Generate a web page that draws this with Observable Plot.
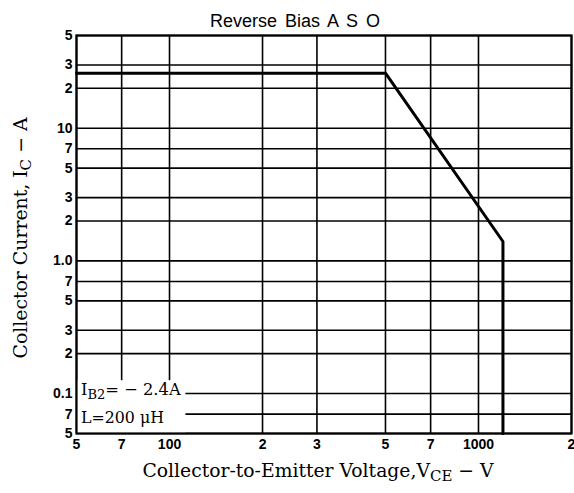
<!DOCTYPE html>
<html>
<head>
<meta charset="utf-8">
<script src="https://cdn.jsdelivr.net/npm/d3@7"></script>
<script src="https://cdn.jsdelivr.net/npm/@observablehq/plot@0.6"></script>
<style>
  body { margin: 0; background: #fff; }
  svg { display: block; }
</style>
</head>
<body>
<div id="chart"></div>
<script>
// ---- Data ----
const chartTitle = "Reverse Bias A S O";
const xTicks = [50, 70, 100, 200, 300, 500, 700, 1000, 2000];
const xTickLabels = ["5", "7", "100", "2", "3", "5", "7", "1000", "2"];
const yTicks = [0.05, 0.07, 0.1, 0.2, 0.3, 0.5, 0.7, 1, 2, 3, 5, 7, 10, 20, 30, 50];
const yTickLabels = ["5", "7", "0.1", "2", "3", "5", "7", "1.0", "2", "3", "5", "7", "10", "2", "3", "5"];
const vce = [50, 500, 1200, 1200];        // Collector-to-Emitter Voltage (V)
const ic = [26, 26, 1.4, 0.05];           // Collector Current (A)
// white box behind annotation (data space)
const annoBoxX = [50, 113];
const annoBoxY = [0.05, 0.125];

const curve = vce.map((v, i) => ({v, i: ic[i]}));
const xTickData = xTicks.map((t, i) => ({t, label: xTickLabels[i]}));
const yTickData = yTicks.map((t, i) => ({t, label: yTickLabels[i]}));

const W = 574, H = 493;
const mL = 76, mR = 3, mT = 35, mB = 60;

const plot = Plot.plot({
  width: W,
  height: H,
  marginLeft: mL,
  marginRight: mR,
  marginTop: mT,
  marginBottom: mB,
  style: {fontFamily: "'Liberation Sans', Arial, sans-serif", background: "#fff", color: "#000"},
  x: {type: "log", domain: [50, 2000], axis: null},
  y: {type: "log", domain: [0.05, 50], axis: null},
  marks: [
    Plot.ruleX(xTicks, {stroke: "#000", strokeWidth: 1.6}),
    Plot.ruleY(yTicks, {stroke: "#000", strokeWidth: 1.6}),
    Plot.rect([0], {x1: () => annoBoxX[0], x2: () => annoBoxX[1], y1: () => annoBoxY[0], y2: () => annoBoxY[1], fill: "#fff"}),
    Plot.line(curve, {x: "v", y: "i", stroke: "#000", strokeWidth: 3, strokeLinejoin: "miter"}),
    Plot.frame({stroke: "#000", strokeWidth: 2.2}),
    Plot.text(xTickData, {x: "t", text: "label", frameAnchor: "bottom", dy: 15, fontSize: 14, fontWeight: "bold", fill: "#000"}),
    Plot.text(yTickData, {y: "t", text: "label", frameAnchor: "left", textAnchor: "end", dx: -4, fontSize: 14, fontWeight: "bold", fill: "#000"}),
    Plot.text([chartTitle], {text: d => d, frameAnchor: "top", dy: -21, dx: -29, fontSize: 18, fill: "#000"})
  ]
});

document.getElementById("chart").appendChild(plot);

const svg = d3.select(plot);
const xs = plot.scale("x"), ys = plot.scale("y");
const serif = "'DejaVu Serif', 'Liberation Serif', serif";

function fitWidth(sel, target, base) {
  const len = sel.node().getComputedTextLength();
  if (len > 0) {
    const f = base * target / len;
    sel.attr("font-size", f);
    sel.selectAll("tspan.sub").attr("font-size", f * 0.8);
  }
}

// Title spacing
svg.selectAll("text").filter(function() { return this.textContent === chartTitle; })
  .style("word-spacing", "3px");

// Y axis label
const yl = svg.append("text")
  .attr("transform", `translate(27, 238) rotate(-90)`)
  .attr("text-anchor", "middle")
  .attr("font-family", serif)
  .attr("font-size", 16)
  .attr("fill", "#000");
yl.append("tspan").text("Collector Current, I");
yl.append("tspan").attr("class", "sub").attr("dy", 4).attr("font-size", 11.5).text("C");
yl.append("tspan").attr("dy", -4).text(" − A");
fitWidth(yl, 240, 16);

// X axis label
const xl = svg.append("text")
  .attr("x", 318)
  .attr("y", 477)
  .attr("text-anchor", "middle")
  .attr("font-family", serif)
  .attr("font-size", 16)
  .attr("fill", "#000");
xl.append("tspan").text("Collector-to-Emitter Voltage,V");
xl.append("tspan").attr("class", "sub").attr("dy", 4).attr("font-size", 11.5).text("CE");
xl.append("tspan").attr("dy", -4).text(" − V");
fitWidth(xl, 349, 16);

// Annotation
const ax = xs.apply(annoBoxX[0]) + 5;
const a1 = svg.append("text")
  .attr("x", ax).attr("y", ys.apply(0.1) + 2)
  .attr("text-anchor", "start")
  .attr("font-family", serif).attr("font-size", 14).attr("fill", "#000");
a1.append("tspan").text("I");
a1.append("tspan").attr("class", "sub").attr("dy", 4).attr("font-size", 12).text("B2");
a1.append("tspan").attr("dy", -4).text("= − 2.4A");
fitWidth(a1, 101, 14);
const a2 = svg.append("text")
  .attr("x", ax).attr("y", ys.apply(0.06) + 1)
  .attr("text-anchor", "start")
  .attr("font-family", serif).attr("font-size", 14).attr("fill", "#000")
  .text("L=200 μH");
fitWidth(a2, 83, 14);
</script>
</body>
</html>
